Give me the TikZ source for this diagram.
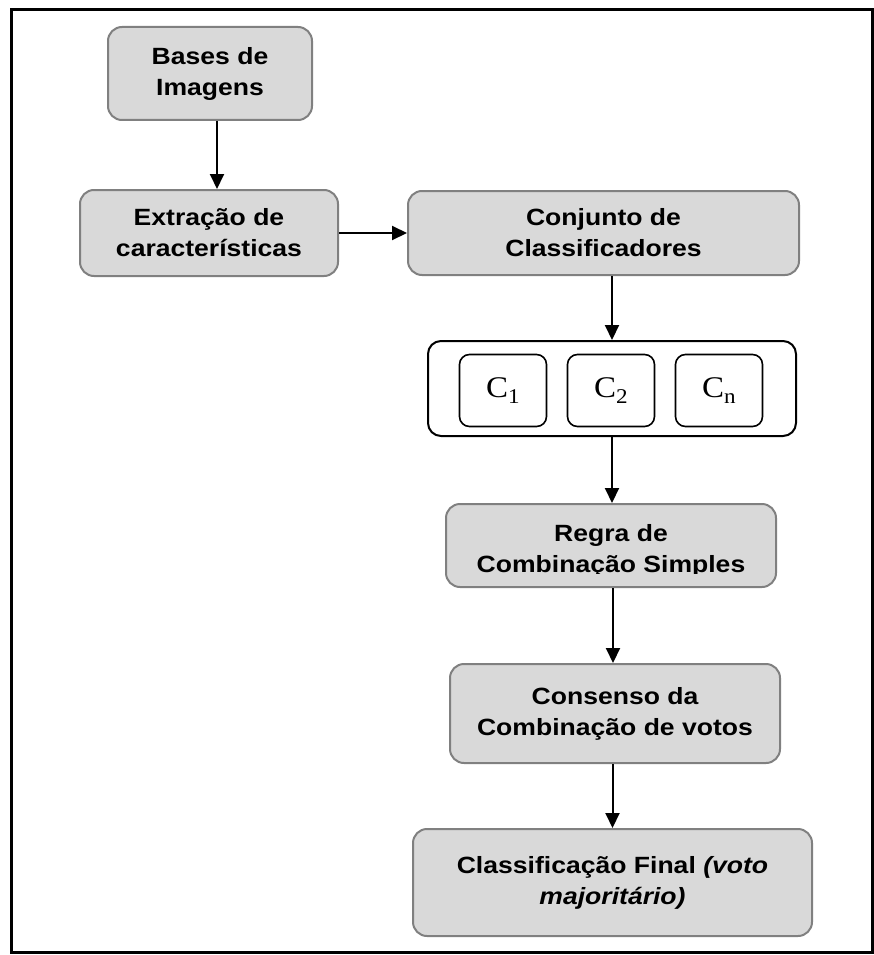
\documentclass[tikz,border=0pt]{standalone}
\usepackage{fontspec}
\setmainfont[FakeStretch=1.13]{Liberation Sans}
\newfontfamily\serifC[FakeStretch=1.1]{Liberation Serif}
\usetikzlibrary{arrows.meta}

\definecolor{boxgray}{HTML}{D9D9D9}
\definecolor{edgegray}{HTML}{808080}

\begin{document}
\begin{tikzpicture}[x=1pt,y=-1pt,
	rotulo/.style={align=center,inner sep=0pt,font=\fontsize{23.5}{31}\selectfont\bfseries},
	etapa/.style={rotulo,draw=edgegray,line width=2pt,fill=boxgray,rounded corners=14pt},
	classif/.style={draw,line width=1.6pt,rounded corners=10pt,minimum width=87pt,minimum height=72pt,inner sep=0pt,font=\serifC\fontsize{30}{30}\selectfont},
	seta/.style={line width=2pt,-{Triangle[length=15pt,width=14pt]}}
	]
\useasboundingbox (0,0) rectangle (874,955);
\draw [line width=3pt] (11,10) rectangle (872,952);

\node[etapa,minimum width=204pt,minimum height=93pt] (bases) at (210,73.5) {Bases de\\Imagens};
\node[etapa,minimum width=258pt,minimum height=86pt] (extr) at (209,233) {Extração de\\características};
\node[etapa,minimum width=391pt,minimum height=84pt] (conj) at (603.5,233) {Conjunto de\\Classificadores};

% grupo de classificadores
\node[draw,line width=2pt,rounded corners=13pt,minimum width=368pt,minimum height=95pt] (grupo) at (612,388.5) {};
\node[classif] (c1) at (503,390.5) {C\raisebox{-6pt}{\fontsize{21}{21}\selectfont 1}};
\node[classif] (c2) at (611,390.5) {C\raisebox{-6pt}{\fontsize{21}{21}\selectfont 2}};
\node[classif] (cn) at (719,390.5) {C\raisebox{-6pt}{\fontsize{21}{21}\selectfont n}};

\node[etapa,minimum width=330pt,minimum height=83pt] (regra) at (611,545.5) {};
\coordinate (corte) at (0,573);
\begin{scope}
\clip (regra.north west) rectangle (regra.east |- corte);
\node[rotulo] (regratexto) at (611,551) {Regra de\\Combinação Simples};
\end{scope}

\node[etapa,minimum width=330pt,minimum height=99pt] (consenso) at (615,713.5) {Consenso da\\Combinação de votos};
\node[etapa,minimum width=399pt,minimum height=107pt] (final) at (612.5,882.5) {Classificação Final \textit{(voto}\\\textit{majoritário)}};

\draw[seta] ([xshift=7pt]bases.south) -- ([xshift=7pt]bases.south |- extr.north);
\draw[seta] (extr) -- (conj);
\draw[seta] (conj.south -| grupo.north) -- (grupo.north);
\draw[seta] (grupo.south) -- (grupo.south |- regra.north);
\draw[seta] ([xshift=2pt]regra.south) -- ([xshift=2pt]regra.south |- consenso.north);
\draw[seta] (consenso.south -| final.north) -- (final.north);
\end{tikzpicture}
\end{document}
